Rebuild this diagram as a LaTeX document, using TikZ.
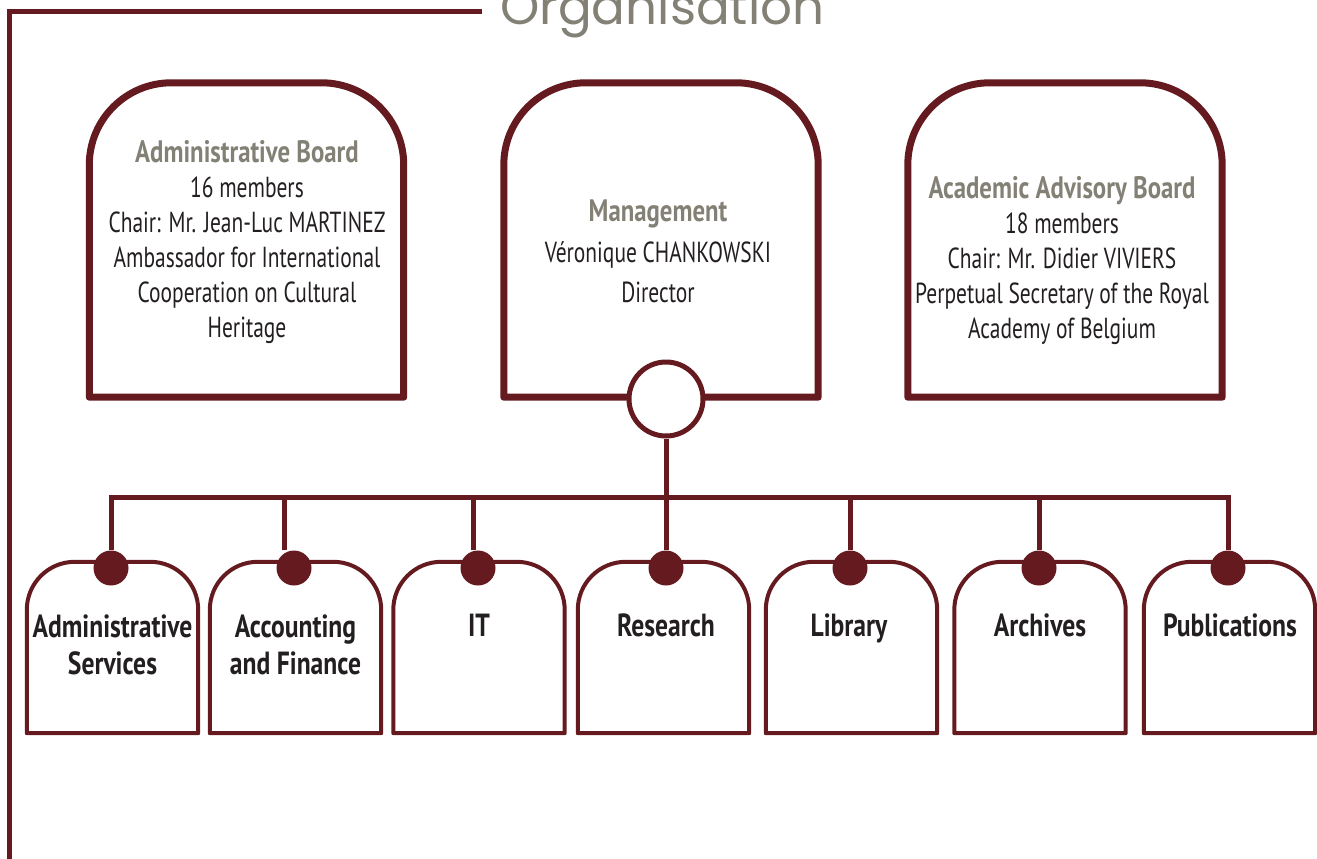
\documentclass[tikz,border=0pt]{standalone}
\usepackage{fontspec}
\setmainfont{PT Sans}[FakeStretch=0.74,BoldFeatures={FakeStretch=0.80}]
\newfontfamily\titrefont{Poppins}
\begin{document}
\begin{tikzpicture}[x=1pt,y=-1pt]
	% définition des couleurs et des styles
	\definecolor{bordeaux}{HTML}{651A1F}
	\definecolor{grisclair}{HTML}{838075}
	\definecolor{encre}{HTML}{231F20}
	\tikzstyle{grand}=[draw=none,minimum width=314pt,minimum height=314pt,inner sep=0pt]
	\tikzstyle{petit}=[draw=none,minimum width=171pt,minimum height=171pt,inner sep=0pt]
	\tikzstyle{epais}=[draw=bordeaux,line width=7pt,line join=round]
	\tikzstyle{fin}=[draw=bordeaux,line width=4pt,line join=round]
	\tikzstyle{trait}=[draw=bordeaux,line width=5pt]
	\tikzstyle{rond}=[circle,draw=bordeaux,line width=5pt,fill=white,minimum size=74pt,inner sep=0pt]
	\tikzstyle{pastille}=[circle,fill=bordeaux,minimum size=35pt,inner sep=0pt]
	\tikzstyle{info}=[align=center,text=encre,font=\fontsize{29}{35}\selectfont]
	\tikzstyle{service}=[align=center,text=encre,font=\fontsize{32}{37}\selectfont\bfseries]
	\tikzstyle{titre}=[anchor=base west,text=grisclair,inner sep=0pt,font=\titrefont\fontsize{50}{56}\selectfont]
	\newcommand{\entete}[1]{{\color{grisclair}\fontsize{31}{35}\selectfont\bfseries #1}}
	\useasboundingbox (0,0) rectangle (1317,859);
	% le titre et le cadre
	\node[titre] (org) at (500,25) {Organisation};
	\draw[trait] (482,12) -- (9.5,12) -- (9.5,859);
	% les grandes cases
	\node[grand] (adm) at (246.5,240) {};
	\node[grand] (mgt) at (661,240) {};
	\node[grand] (aab) at (1065,240) {};
	\foreach \n in {adm,mgt,aab}
		\draw[epais] (\n.south west) -- ([yshift=-82pt]\n.north west) arc[start angle=180,end angle=90,radius=82pt]
			-- ([xshift=-82pt]\n.north east) arc[start angle=90,end angle=0,radius=82pt] -- (\n.south east) -- cycle;
	\node[info] (admtxt) at (247,242.5) {\entete{Administrative Board}\\16 members\\Chair: Mr. Jean-Luc MARTINEZ\\Ambassador for International\\Cooperation on Cultural\\Heritage};
	\node[info,font=\fontsize{29}{40.5}\selectfont] (mgttxt) at (658,251.5) {\entete{Management}\\Véronique CHANKOWSKI\\Director};
	\node[info] (aabtxt) at (1062,260.5) {\entete{Academic Advisory Board}\\18 members\\Chair: Mr. Didier VIVIERS\\Perpetual Secretary of the Royal\\Academy of Belgium};
	% les petites cases
	\foreach \n/\x in {s1/112.5,s2/295.5,s3/479,s4/663.5,s5/851.5,s6/1040,s7/1229.5}
	{
		\node[petit] (\n) at (\x,647.5) {};
		\draw[fin] (\n.south west) -- ([yshift=-48pt]\n.north west) arc[start angle=180,end angle=90,radius=48pt]
			-- ([xshift=-48pt]\n.north east) arc[start angle=90,end angle=0,radius=48pt] -- (\n.south east) -- cycle;
	}
	\node[service] (t1) at (112.5,644.5) {Administrative\\Services};
	\node[service] (t2) at (295.5,644.5) {Accounting\\and Finance};
	\node[service,anchor=base] (t3) at (479,636) {IT};
	\node[service,anchor=base] (t4) at (666,636) {Research};
	\node[service,anchor=base] (t5) at (849,636) {Library};
	\node[service,anchor=base] (t6) at (1040,636) {Archives};
	\node[service,anchor=base] (t7) at (1230,636) {Publications};
	% les pastilles
	\node[pastille] (d1) at (111,568) {};
	\node[pastille] (d2) at (294,568) {};
	\node[pastille] (d3) at (478,568) {};
	\node[pastille] (d4) at (666,568) {};
	\node[pastille] (d5) at (850,568) {};
	\node[pastille] (d6) at (1039,568) {};
	\node[pastille] (d7) at (1228,568) {};
	% les liaisons
	\coordinate (bus) at (666,497);
	\node[rond] (dir) at (666,399) {};
	\draw[trait] (dir.south) -- (d4.north);
	\draw[trait] (d1.north) |- (d7.north |- bus) -- (d7.north);
	\draw[trait] ([xshift=-10pt]d2.north) -- ([xshift=-10pt]d2.north |- bus);
	\draw[trait] ([xshift=-5pt]d3.north) -- ([xshift=-5pt]d3.north |- bus);
	\draw[trait] (d5.north) -- (d5.north |- bus);
	\draw[trait] (d6.north) -- (d6.north |- bus);
\end{tikzpicture}
\end{document}
